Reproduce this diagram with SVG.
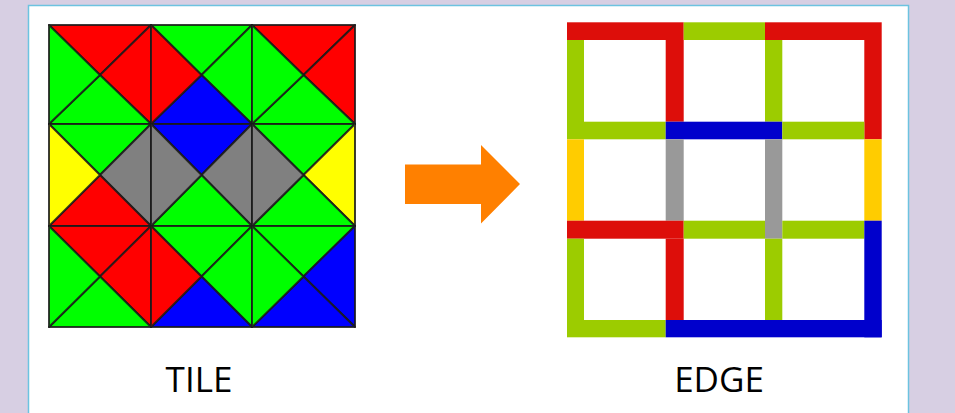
<svg xmlns="http://www.w3.org/2000/svg" width="955" height="413" viewBox="0 0 955 413">
<style>
.t path{stroke:#1a1a1a;stroke-width:2;stroke-linejoin:round;stroke-opacity:0.85}
.r{fill:#ff0000}.g{fill:#00ff00}.b{fill:#0000ff}.y{fill:#ffff00}.k{fill:#808080}
.er{fill:#dd0e0a}.eg{fill:#9ccc00}.eb{fill:#0000cc}.ey{fill:#ffcc00}.ek{fill:#999999}
.lbl{font-family:"Open Sans","Liberation Sans",sans-serif;font-size:35px;fill:#000;text-anchor:middle}
</style>
<rect width="955" height="413" fill="#d7cfe3"/>
<rect x="28.5" y="5.5" width="880" height="420" fill="#fff" stroke="#6cc3e0" stroke-width="1.5"/>
<g id="tile" class="t">
<g id="t00"><path class="r" d="M49 25H151L100 75Z"/><path class="r" d="M151 25V124L100 75Z"/><path class="g" d="M49 124H151L100 75Z"/><path class="g" d="M49 25V124L100 75Z"/></g>
<g id="t01"><path class="g" d="M151 25H252L201.5 75Z"/><path class="g" d="M252 25V124L201.5 75Z"/><path class="b" d="M151 124H252L201.5 75Z"/><path class="r" d="M151 25V124L201.5 75Z"/></g>
<g id="t02"><path class="r" d="M252 25H355L303.5 75Z"/><path class="r" d="M355 25V124L303.5 75Z"/><path class="g" d="M252 124H355L303.5 75Z"/><path class="g" d="M252 25V124L303.5 75Z"/></g>
<g id="t10"><path class="g" d="M49 124H151L100 175Z"/><path class="k" d="M151 124V226L100 175Z"/><path class="r" d="M49 226H151L100 175Z"/><path class="y" d="M49 124V226L100 175Z"/></g>
<g id="t11"><path class="b" d="M151 124H252L201.5 175Z"/><path class="k" d="M252 124V226L201.5 175Z"/><path class="g" d="M151 226H252L201.5 175Z"/><path class="k" d="M151 124V226L201.5 175Z"/></g>
<g id="t12"><path class="g" d="M252 124H355L303.5 175Z"/><path class="y" d="M355 124V226L303.5 175Z"/><path class="g" d="M252 226H355L303.5 175Z"/><path class="k" d="M252 124V226L303.5 175Z"/></g>
<g id="t20"><path class="r" d="M49 226H151L100 276.5Z"/><path class="r" d="M151 226V327L100 276.5Z"/><path class="g" d="M49 327H151L100 276.5Z"/><path class="g" d="M49 226V327L100 276.5Z"/></g>
<g id="t21"><path class="g" d="M151 226H252L201.5 276.5Z"/><path class="g" d="M252 226V327L201.5 276.5Z"/><path class="b" d="M151 327H252L201.5 276.5Z"/><path class="r" d="M151 226V327L201.5 276.5Z"/></g>
<g id="t22"><path class="g" d="M252 226H355L303.5 276.5Z"/><path class="b" d="M355 226V327L303.5 276.5Z"/><path class="b" d="M252 327H355L303.5 276.5Z"/><path class="g" d="M252 226V327L303.5 276.5Z"/></g>
</g>
<g id="connectors">
<path id="arrow" d="M405 164.5H481V145L520 184L481 223.5V204H405Z" fill="#ff8000"/>
</g>
<g id="edge">
<rect class="er" x="567" y="22.3" width="116.7" height="17.7"/>
<rect class="eg" x="683.7" y="22.3" width="81.3" height="17.7"/>
<rect class="er" x="765" y="22.3" width="116.7" height="17.7"/>
<rect class="eg" x="567" y="40" width="17" height="99.3"/>
<rect class="er" x="665.7" y="40" width="18" height="81.7"/>
<rect class="eg" x="765" y="40" width="17.3" height="81.7"/>
<rect class="er" x="864.3" y="40" width="17.4" height="99.3"/>
<rect class="eg" x="584" y="121.7" width="81.7" height="17.6"/>
<rect class="eb" x="665.7" y="121.7" width="116.6" height="17.6"/>
<rect class="eg" x="782.3" y="121.7" width="82" height="17.6"/>
<rect class="ey" x="567" y="139.3" width="17" height="81.4"/>
<rect class="ek" x="665.7" y="139.3" width="18" height="81.4"/>
<rect class="ek" x="765" y="139.3" width="17.3" height="99.4"/>
<rect class="ey" x="864.3" y="139.3" width="17.4" height="81.4"/>
<rect class="er" x="567" y="220.7" width="116.7" height="18"/>
<rect class="eg" x="683.7" y="220.7" width="81.3" height="18"/>
<rect class="eg" x="782.3" y="220.7" width="82" height="18"/>
<rect class="eb" x="864.3" y="220.7" width="17.4" height="116.6"/>
<rect class="eg" x="567" y="238.7" width="17" height="98.6"/>
<rect class="er" x="665.7" y="238.7" width="18" height="81.3"/>
<rect class="eg" x="765" y="238.7" width="17.3" height="81.3"/>
<rect class="eg" x="584" y="320" width="81.7" height="17.3"/>
<rect class="eb" x="665.7" y="320" width="216" height="17.3"/>
</g>
<text class="lbl" x="199" y="392">TILE</text>
<text class="lbl" x="719" y="392">EDGE</text>
</svg>
